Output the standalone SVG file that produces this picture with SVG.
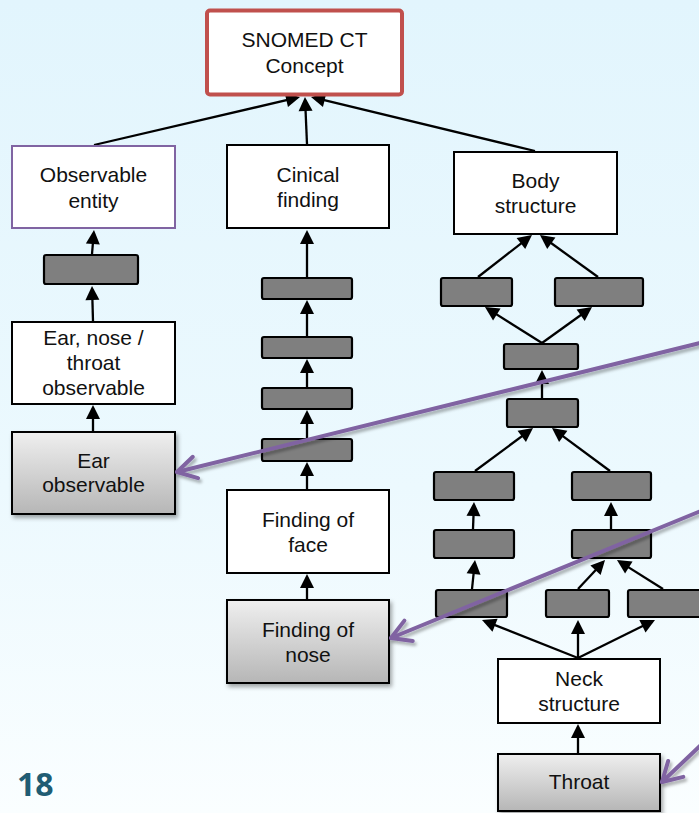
<svg xmlns="http://www.w3.org/2000/svg" width="699" height="813" viewBox="0 0 699 813">
<defs>
<linearGradient id="bg" x1="0" y1="0" x2="0" y2="1">
<stop offset="0" stop-color="#E2F5FD"/>
<stop offset="0.6" stop-color="#ECF9FE"/>
<stop offset="1" stop-color="#FAFEFF"/>
</linearGradient>
<linearGradient id="greyfill" x1="0" y1="0" x2="0" y2="1">
<stop offset="0" stop-color="#EFEFEF"/>
<stop offset="1" stop-color="#B6B6B6"/>
</linearGradient>
<filter id="shadow" x="-20%" y="-20%" width="140%" height="150%">
<feDropShadow dx="2" dy="3" stdDeviation="2" flood-color="#000" flood-opacity="0.35"/>
</filter>
<filter id="lshadow" x="-10%" y="-30%" width="120%" height="160%">
<feDropShadow dx="2" dy="3" stdDeviation="1.8" flood-color="#000" flood-opacity="0.3"/>
</filter>
<marker id="tri" markerUnits="userSpaceOnUse" viewBox="-13 -8 17 16" refX="0" refY="0" markerWidth="17" markerHeight="16" orient="auto" overflow="visible">
<path d="M3,0 L-11,-7 L-11,7 Z" fill="#000"/>
</marker>
<marker id="vee" markerUnits="userSpaceOnUse" viewBox="-25 -15 30 30" refX="0" refY="0" markerWidth="30" markerHeight="30" orient="auto" overflow="visible">
<path d="M-19,-11 L0,0 L-19,11" fill="none" stroke="#8064A2" stroke-width="4" stroke-linecap="round" stroke-linejoin="round"/>
</marker>
</defs>
<style>
text{font-family:"Liberation Sans",Arial,Helvetica,sans-serif;font-size:21px;fill:#111;text-anchor:middle}
.box{fill:#fff;stroke:#000;stroke-width:2}
.gbox{fill:url(#greyfill);stroke:#000;stroke-width:2;filter:url(#shadow)}
.bar{fill:#7F7F7F;stroke:#000;stroke-width:2.2}
.conn line{stroke:#000;stroke-width:2.3;marker-end:url(#tri)}
.callout path{fill:none;stroke:#8064A2;stroke-width:4;stroke-linecap:round;marker-end:url(#vee);filter:url(#lshadow)}
.num{font-family:"Open Sans","Liberation Sans",sans-serif;font-weight:bold;font-size:32px;fill:#205C73;text-anchor:start}
</style>
<rect x="0" y="0" width="699" height="813" fill="url(#bg)"/>

<g id="connectors" class="conn">
<line x1="94" y1="145" x2="297.1" y2="97.7"/>
<line x1="307" y1="144" x2="305.1" y2="100"/>
<line x1="535" y1="151" x2="313.9" y2="97.7"/>
<line x1="92" y1="254" x2="93.75" y2="233"/>
<line x1="93" y1="321" x2="92.1" y2="289"/>
<line x1="93" y1="431" x2="93" y2="408"/>
<line x1="307" y1="277" x2="307" y2="233"/>
<line x1="307" y1="336" x2="307" y2="303"/>
<line x1="307" y1="387" x2="307" y2="362"/>
<line x1="307" y1="438" x2="307" y2="413"/>
<line x1="307" y1="489" x2="307" y2="465"/>
<line x1="307" y1="599" x2="307" y2="577"/>
<line x1="478" y1="277" x2="529.6" y2="236.8"/>
<line x1="598" y1="277" x2="542.4" y2="236.8"/>
<line x1="542" y1="343" x2="487.5" y2="308.6"/>
<line x1="542" y1="343" x2="589.6" y2="308.8"/>
<line x1="542" y1="398" x2="542" y2="373"/>
<line x1="475" y1="471" x2="530.6" y2="429.8"/>
<line x1="610" y1="471" x2="554.4" y2="429.8"/>
<line x1="473" y1="529" x2="473.9" y2="505"/>
<line x1="611" y1="529" x2="611" y2="505"/>
<line x1="472" y1="589" x2="474.7" y2="563"/>
<line x1="578" y1="589" x2="603" y2="562.2"/>
<line x1="663" y1="589" x2="619.5" y2="561.6"/>
<line x1="578" y1="658" x2="484.8" y2="621.1"/>
<line x1="578" y1="658" x2="578" y2="623"/>
<line x1="578" y1="658" x2="652.3" y2="621.3"/>
<line x1="578" y1="753" x2="578" y2="727"/>
</g>

<g id="snomed-ct-concept">
<rect x="207" y="10.5" width="195" height="84" rx="3" fill="#fff" stroke="#C0504D" stroke-width="4"/>
<text x="304.5" y="47">SNOMED CT</text>
<text x="304.5" y="73">Concept</text>
</g>
<g id="observable-entity">
<rect x="12" y="146" width="163" height="82" fill="#fff" stroke="#8064A2" stroke-width="2"/>
<text x="93.5" y="182">Observable</text>
<text x="93.5" y="208">entity</text>
</g>
<g id="clinical-finding">
<rect class="box" x="227" y="145" width="162" height="83"/>
<text x="308" y="182">Cinical</text>
<text x="308" y="207">finding</text>
</g>
<g id="body-structure">
<rect class="box" x="454" y="152" width="163" height="82"/>
<text x="535.5" y="188">Body</text>
<text x="535.5" y="213">structure</text>
</g>
<g id="ent-observable">
<rect class="box" x="12" y="322" width="163" height="82"/>
<text x="93.5" y="345">Ear, nose /</text>
<text x="93.5" y="370">throat</text>
<text x="93.5" y="395">observable</text>
</g>
<g id="ear-observable">
<rect class="gbox" x="12" y="432" width="163" height="82"/>
<text x="93.5" y="468">Ear</text>
<text x="93.5" y="492">observable</text>
</g>
<g id="finding-of-face">
<rect class="box" x="227" y="490" width="162" height="83"/>
<text x="308" y="527">Finding of</text>
<text x="308" y="552">face</text>
</g>
<g id="finding-of-nose">
<rect class="gbox" x="227" y="600" width="162" height="83"/>
<text x="308" y="637">Finding of</text>
<text x="308" y="662">nose</text>
</g>
<g id="neck-structure">
<rect class="box" x="498" y="659" width="162" height="64"/>
<text x="579" y="686">Neck</text>
<text x="579" y="711">structure</text>
</g>
<g id="throat">
<rect class="gbox" x="498" y="754" width="162" height="57"/>
<text x="579" y="789">Throat</text>
</g>

<g id="bar-left-1"><rect class="bar" x="44" y="255" width="94" height="29" rx="2"/></g>
<g id="bar-mid-1"><rect class="bar" x="262" y="278" width="90" height="21" rx="2"/></g>
<g id="bar-mid-2"><rect class="bar" x="262" y="337" width="90" height="21" rx="2"/></g>
<g id="bar-mid-3"><rect class="bar" x="262" y="388" width="90" height="21" rx="2"/></g>
<g id="bar-mid-4"><rect class="bar" x="262" y="439" width="90" height="22" rx="2"/></g>
<g id="bar-r-l1"><rect class="bar" x="441" y="278" width="71" height="28" rx="2"/></g>
<g id="bar-r-r1"><rect class="bar" x="555" y="278" width="88" height="28" rx="2"/></g>
<g id="bar-r-m1"><rect class="bar" x="504" y="344" width="74" height="25" rx="2"/></g>
<g id="bar-r-m2"><rect class="bar" x="507" y="399" width="71" height="28" rx="2"/></g>
<g id="bar-r-l2"><rect class="bar" x="434" y="472" width="80" height="28" rx="2"/></g>
<g id="bar-r-r2"><rect class="bar" x="572" y="472" width="79" height="28" rx="2"/></g>
<g id="bar-r-l3"><rect class="bar" x="434" y="530" width="80" height="28" rx="2"/></g>
<g id="bar-r-r3"><rect class="bar" x="572" y="530" width="79" height="28" rx="2"/></g>
<g id="bar-r-l4"><rect class="bar" x="436" y="590" width="71" height="27" rx="2"/></g>
<g id="bar-r-m4"><rect class="bar" x="546" y="590" width="63" height="27" rx="2"/></g>
<g id="bar-r-r4"><rect class="bar" x="628" y="590" width="80" height="27" rx="2"/></g>

<g id="callouts" class="callout">
<path d="M702,342.5 L177,472"/>
<path d="M702,510.5 L391,638"/>
<path d="M702,744 L662,782"/>
</g>

<text class="num" x="17" y="796">18</text>
</svg>
